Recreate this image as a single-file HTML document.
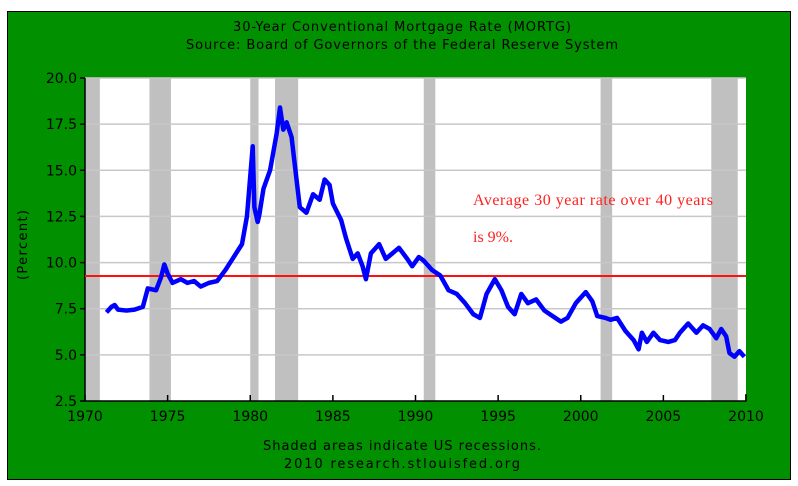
<!DOCTYPE html>
<html><head><meta charset="utf-8"><style>
body{margin:0;background:#fff;width:798px;height:486px;overflow:hidden}
svg{display:block}
text{font-family:"DejaVu Sans","Liberation Sans",sans-serif}
</style></head><body>
<svg id="c" width="798" height="486">
<rect x="7.5" y="11.5" width="783" height="468" fill="#009000" stroke="#000"/>
<text x="402" y="31" font-size="13" text-anchor="middle" textLength="338" lengthAdjust="spacing">30-Year Conventional Mortgage Rate (MORTG)</text>
<text x="402" y="49" font-size="13" text-anchor="middle" textLength="432" lengthAdjust="spacing">Source: Board of Governors of the Federal Reserve System</text>
<rect x="85" y="78" width="661" height="323" fill="#fff"/>
<g id="rec"></g><g id="grid"></g><g id="axes"></g><g id="series"></g>
<text x="473" y="205" font-size="16" fill="#ff2020" textLength="240" lengthAdjust="spacing" style="font-family:'Liberation Serif',serif">Average 30 year rate over 40 years</text>
<text x="473" y="242" font-size="16" fill="#ff2020" style="font-family:'Liberation Serif',serif">is 9%.</text>
<text transform="translate(27,245) rotate(-90)" font-size="13" text-anchor="middle" textLength="70" lengthAdjust="spacing">(Percent)</text>
<text x="402" y="450" font-size="13" text-anchor="middle" textLength="278" lengthAdjust="spacing">Shaded areas indicate US recessions.</text>
<text x="402" y="468" font-size="13" text-anchor="middle" textLength="236" lengthAdjust="spacing">2010 research.stlouisfed.org</text>
</svg>
<script>
const years=[1971.3,1971.6,1971.8,1972.0,1972.5,1973.0,1973.5,1973.8,1974.3,1974.6,1974.8,1975.0,1975.3,1975.8,1976.2,1976.6,1977.0,1977.5,1978.0,1978.5,1979.0,1979.5,1979.8,1980.15,1980.25,1980.45,1980.55,1980.8,1981.2,1981.6,1981.8,1982.0,1982.2,1982.5,1982.8,1983.0,1983.4,1983.8,1984.2,1984.5,1984.8,1985.0,1985.5,1985.8,1986.2,1986.5,1986.8,1987.0,1987.3,1987.8,1988.2,1988.6,1989.0,1989.5,1989.8,1990.2,1990.5,1991.0,1991.5,1992.0,1992.5,1993.0,1993.5,1993.9,1994.3,1994.8,1995.2,1995.6,1996.0,1996.4,1996.8,1997.3,1997.8,1998.3,1998.8,1999.2,1999.7,2000.3,2000.7,2001.0,2001.5,2001.8,2002.2,2002.7,2003.2,2003.5,2003.7,2004.0,2004.4,2004.8,2005.3,2005.7,2006.0,2006.5,2007.0,2007.4,2007.8,2008.2,2008.5,2008.8,2009.0,2009.3,2009.6,2009.9];
const rates=[7.3,7.6,7.7,7.45,7.4,7.45,7.6,8.6,8.5,9.2,9.9,9.4,8.9,9.1,8.9,9.0,8.7,8.9,9.0,9.6,10.3,11.0,12.5,16.3,13.0,12.2,12.6,14.0,15.0,17.0,18.4,17.2,17.6,16.8,14.5,13.0,12.7,13.7,13.4,14.5,14.2,13.2,12.3,11.3,10.2,10.5,9.8,9.1,10.5,11.0,10.2,10.5,10.8,10.2,9.8,10.3,10.1,9.6,9.3,8.5,8.3,7.8,7.2,7.0,8.3,9.1,8.5,7.6,7.2,8.3,7.8,8.0,7.4,7.1,6.8,7.0,7.8,8.4,7.9,7.1,7.0,6.9,7.0,6.3,5.8,5.3,6.2,5.7,6.2,5.8,5.7,5.8,6.2,6.7,6.2,6.6,6.4,5.9,6.4,6.0,5.1,4.9,5.2,4.9];
const recStart=[1969.9,1973.9,1980.0,1981.5,1990.5,2001.2,2007.9];
const recEnd=[1970.9,1975.2,1980.5,1982.9,1991.2,2001.9,2009.5];
const yTicks=[2.5,5.0,7.5,10.0,12.5,15.0,17.5,20.0];
const xTicks=[1970,1975,1980,1985,1990,1995,2000,2005,2010];
const avgRate=[9.27];
const NS='http://www.w3.org/2000/svg';
const X=v=>85+(Math.max(1970,Math.min(2010,v))-1970)*(661/40);
const Y=v=>401-(v-2.5)*(323/17.5);
function mk(t,a,p){const e=document.createElementNS(NS,t);for(const k in a)e.setAttribute(k,a[k]);p.appendChild(e);return e;}
const rec=document.getElementById('rec'),grid=document.getElementById('grid'),axes=document.getElementById('axes'),ser=document.getElementById('series');
recStart.forEach((s,i)=>{const r=mk('rect',{x:X(s),y:78,width:X(recEnd[i])-X(s),height:323,fill:'#c0c0c0'},rec);

});
yTicks.forEach(v=>{const y=Y(v);
if(v>2.5){const l=mk('line',{x1:85,x2:746,y1:y,y2:y,stroke:'#c8c8c8','stroke-width':1.5},grid);

}
mk('line',{x1:80,x2:85,y1:y,y2:y,stroke:'#000','stroke-width':1.5},axes);
const t=mk('text',{x:77,y:y+5,'font-size':14,'text-anchor':'end'},axes);t.textContent=v.toFixed(1);

});
xTicks.forEach(v=>{const x=X(v);
mk('line',{x1:x,x2:x,y1:395,y2:401,stroke:'#000','stroke-width':1.5},axes);
const t=mk('text',{x:x,y:421,'font-size':14,'text-anchor':'middle'},axes);t.textContent=v;

});
mk('path',{d:'M85,78V401H746V394',fill:'none',stroke:'#000','stroke-width':1.5},axes);
const avg=mk('line',{x1:85,x2:746,y1:Y(avgRate[0]),y2:Y(avgRate[0]),stroke:'#ff1010','stroke-width':2},ser);


const p=mk('polyline',{points:years.map((y,i)=>X(y)+','+Y(rates[i])).join(' '),fill:'none',stroke:'#0000ff','stroke-width':4.5,'stroke-linejoin':'round'},ser);


</script>
</body></html>
